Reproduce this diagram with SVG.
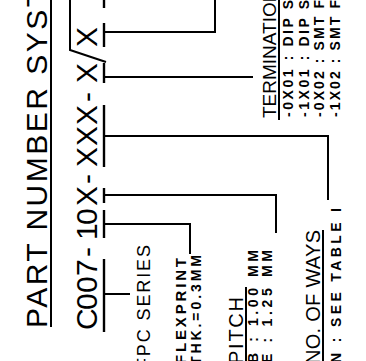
<svg xmlns="http://www.w3.org/2000/svg" width="366" height="361" viewBox="0 0 366 361">
<style>
.t{font-family:"Liberation Sans",Arial,sans-serif;fill:#000}
.big{font-size:30px}
.mid{font-size:19px}
.sm{font-size:14px;font-weight:bold}
.ln{stroke:#000;stroke-width:2;fill:none}
.tk{stroke:#000;stroke-width:2.4;fill:none}
</style>
<rect x="0" y="0" width="366" height="361" fill="#fff"/>
<g transform="translate(0,361) rotate(-90)">
  <g id="title">
    <text class="t big" x="33" y="47" textLength="339" lengthAdjust="spacing">PART NUMBER SYST</text>
    <line class="ln" x1="34" y1="51" x2="361" y2="51"/>
  </g>
  <g id="part-number">
    <text class="t big" x="31 51 68 85 104 121 136 155 177 194 215 236 259 278" y="97">C007-10X-XXX-X</text>
    <text class="t big" x="314" y="97">X</text>
  </g>
  <g id="fpc-series">
    <text class="t" style="font-size:18px" x="-8" y="150" textLength="124" lengthAdjust="spacing">FPC SERIES</text>
  </g>
  <g id="flexprint">
    <text class="t sm" style="font-size:15px" x="-3" y="186" textLength="106" lengthAdjust="spacing">FLEXPRINT</text>
    <text class="t sm" x="-4" y="201" textLength="110" lengthAdjust="spacing">THK.=0.3MM</text>
  </g>
  <g id="pitch">
    <text class="t" style="font-size:20px" x="-3" y="243" textLength="67" lengthAdjust="spacing">PITCH</text>
    <line class="ln" x1="0" y1="246" x2="74" y2="246"/>
    <text class="t sm" x="-2" y="258" textLength="113" lengthAdjust="spacing">B : 1.00 MM</text>
    <text class="t sm" x="-2" y="272" textLength="113" lengthAdjust="spacing">E : 1.25 MM</text>
  </g>
  <g id="no-of-ways">
    <text class="t" style="font-size:20px" x="-3" y="320" textLength="134" lengthAdjust="spacing">NO. OF WAYS</text>
    <line class="ln" x1="0" y1="323" x2="131" y2="323"/>
    <text class="t sm" x="-2" y="341" textLength="155" lengthAdjust="spacing">N : SEE TABLE I</text>
  </g>
  <g id="termination">
    <text class="t mid" x="243" y="276">TERMINATION</text>
    <line class="ln" x1="241" y1="279" x2="361" y2="279"/>
    <text class="t sm" x="244" y="293" textLength="117" lengthAdjust="spacing">-0X01 : DIP S</text>
    <text class="t sm" x="244" y="309" textLength="117" lengthAdjust="spacing">-1X01 : DIP S</text>
    <text class="t sm" x="244" y="324" textLength="117" lengthAdjust="spacing">-0X02 : SMT F</text>
    <text class="t sm" x="244" y="340" textLength="117" lengthAdjust="spacing">-1X02 : SMT F</text>
  </g>
  <g id="connectors">
    <line class="tk" x1="29" y1="104" x2="102" y2="104"/>
    <line class="tk" x1="123" y1="104" x2="151" y2="104"/>
    <line class="tk" x1="158" y1="104" x2="173" y2="104"/>
    <line class="tk" x1="194" y1="104" x2="256" y2="104"/>
    <line class="tk" x1="278" y1="104" x2="298" y2="104"/>
    <line class="tk" x1="314" y1="104" x2="338" y2="104"/>
    <line class="tk" x1="353" y1="104" x2="361" y2="104"/>
    <polyline class="ln" points="299,106 311,70 361,70"/>
    <polyline class="ln" points="67,104 67,130"/>
    <polyline class="ln" points="137,104 137,190 107,190"/>
    <polyline class="ln" points="166,104 166,276 128,276"/>
    <polyline class="ln" points="225,104 225,328 161,328"/>
    <polyline class="ln" points="284,104 284,253"/>
    <polyline class="ln" points="329,104 329,215 361,215"/>
  </g>
</g>
</svg>
